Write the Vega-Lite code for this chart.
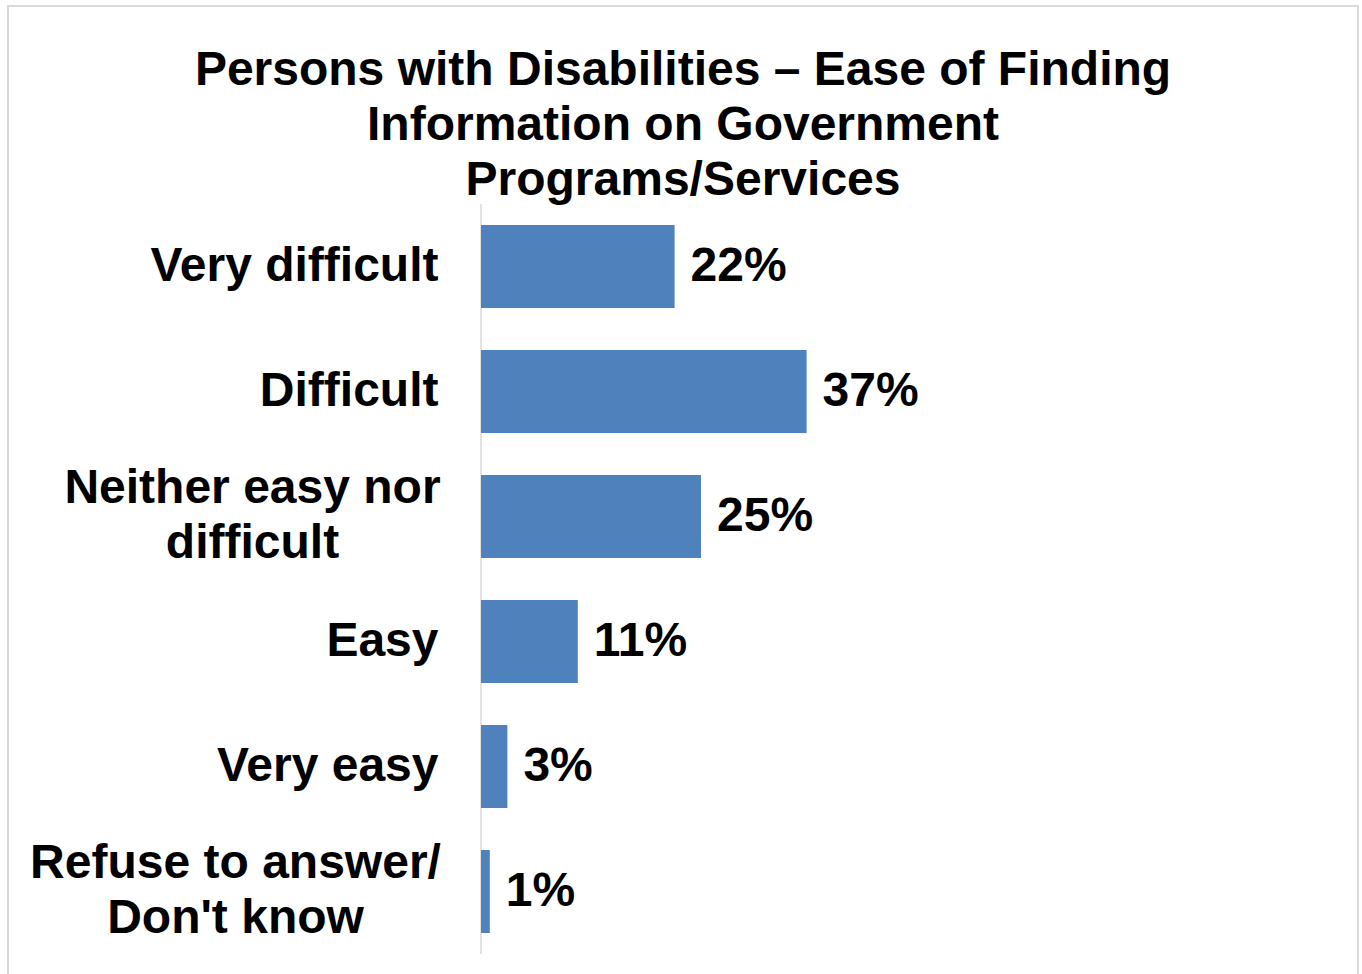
{
  "$schema": "https://vega.github.io/schema/vega-lite/v6.json",
  "autosize": "none",
  "width": 1350,
  "height": 974,
  "padding": {"left": 8, "top": 6, "right": 4, "bottom": 0},
  "background": "white",
  "config": {
    "view": {"stroke": "#d9d9d9", "strokeWidth": 2},
    "font": "Liberation Sans"
  },
  "title": {
    "text": ["Persons with Disabilities \u2013 Ease of Finding", "Information on Government", "Programs/Services"],
    "font": "Liberation Sans",
    "fontSize": 48,
    "fontWeight": "bold",
    "lineHeight": 55,
    "color": "black",
    "anchor": "middle",
    "baseline": "top",
    "offset": -199
  },
  "data": {
    "values": [
      {"category": "Very difficult", "share": 0.22},
      {"category": "Difficult", "share": 0.37},
      {"category": "Neither easy nor difficult", "share": 0.25},
      {"category": "Easy", "share": 0.11},
      {"category": "Very easy", "share": 0.03},
      {"category": "Refuse to answer/ Don't know", "share": 0.01}
    ]
  },
  "encoding": {
    "y": {
      "field": "category",
      "type": "nominal",
      "sort": null,
      "scale": {"paddingInner": 0, "paddingOuter": 0.896, "align": 0.884},
      "axis": {
        "title": null,
        "domain": false,
        "ticks": false,
        "grid": false,
        "offset": -473,
        "labelPadding": {"condition": [
          {"test": "datum.value == 'Neither easy nor difficult'", "value": 229},
          {"test": "indexof(datum.value, 'Refuse') >= 0", "value": 246}
        ], "value": 43},
        "labelAlign": {"condition": {"test": "datum.value == 'Neither easy nor difficult' || indexof(datum.value, 'Refuse') >= 0", "value": "center"}, "value": "right"},
        "labelOffset": {"condition": {"test": "datum.value == 'Neither easy nor difficult' || indexof(datum.value, 'Refuse') >= 0", "value": -27.5}, "value": 0},
        "labelLimit": 1000,
        "labelFont": "Liberation Sans",
        "labelFontSize": 48,
        "labelFontWeight": "bold",
        "labelColor": "black",
        "labelLineHeight": 55,
        "labelBaseline": "middle",
        "labelExpr": "datum.value == 'Neither easy nor difficult' ? ['Neither easy nor', 'difficult'] : indexof(datum.value, 'Refuse') >= 0 ? ['Refuse to answer/', \"Don't know\"] : datum.label"
      }
    }
  },
  "layer": [
    {
      "mark": {"type": "tick", "size": 125, "thickness": 1.5, "color": "#d9d9d9", "opacity": 1},
      "encoding": {
        "x": {"datum": 0, "type": "quantitative", "scale": {"domain": [-0.5375, 0.9966], "nice": false, "zero": false}, "axis": null}
      }
    },
    {
      "mark": {"type": "bar", "color": "#4f81bd", "height": {"band": 0.664}},
      "encoding": {
        "x": {"field": "share", "type": "quantitative", "axis": null}
      }
    },
    {
      "mark": {"type": "text", "align": "left", "baseline": "middle", "dx": 16, "font": "Liberation Sans", "fontSize": 48, "fontWeight": "bold", "color": "black"},
      "encoding": {
        "x": {"field": "share", "type": "quantitative", "axis": null},
        "text": {"field": "share", "type": "quantitative", "format": ".0%"}
      }
    }
  ]
}
